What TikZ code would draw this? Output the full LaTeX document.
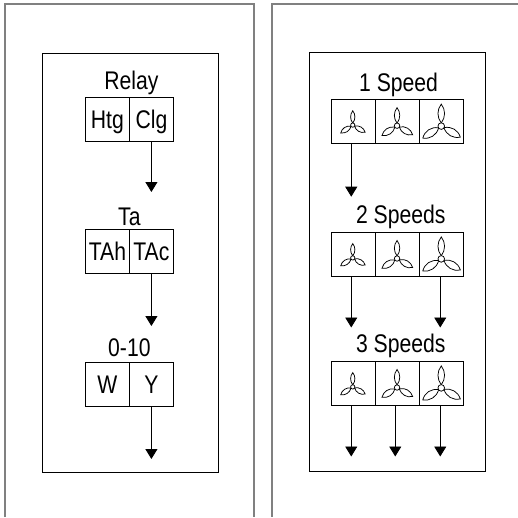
\documentclass[tikz,border=0pt]{standalone}
\usepackage{fontspec}
\setmainfont[FakeStretch=0.83]{Liberation Sans}
\usetikzlibrary{arrows.meta,positioning,calc}
\definecolor{panelgray}{RGB}{128,128,128}

\begin{document}
\begin{tikzpicture}[x=1pt,y=1pt,
  panel/.style={draw=panelgray, line width=2pt},
  frame/.style={draw, line width=1pt, minimum width=176pt, minimum height=419pt, inner sep=0pt},
  cell/.style={draw, line width=0.9pt, minimum width=44pt, minimum height=44pt, inner sep=0pt, outer sep=0pt, text height=18pt, text depth=0pt, font=\fontsize{25.5}{25.5}\selectfont},
  title/.style={anchor=base, inner sep=0pt, font=\fontsize{25.5}{25.5}\selectfont},
  arr/.style={-{Triangle[length=10pt,width=12pt]}, line width=0.9pt},
  pics/fan/.style={code={
    \foreach \ang/\wid in {0/1,123/1.15,-120/1.15}
      \draw[rotate=\ang, xscale=\wid, line width=0.75pt] (0,0.14) .. controls (-0.2,0.4) and (-0.2,0.75) .. (0,1) .. controls (0.2,0.75) and (0.2,0.4) .. (0,0.14);
    \draw[line width=0.75pt, fill=white] (0,0) circle (0.15);
  }}]
\useasboundingbox (0,0) rectangle (518,-517);
% outer panels, open at the bottom
\draw[panel] (5,-517) -- (5,-4) -- (254,-4) -- (254,-517);
\draw[panel] (518,-4) -- (272,-4) -- (272,-517);
\node[frame] (leftframe) at (130,-262.5) {};
\node[frame] (rightframe) at (397.5,-262) {};

% left column
\node[cell] (htg) at (107.4,-119) {Htg};
\node[cell, right=0pt of htg] (clg) {Clg};
\node[title] (relay) at ($(htg.north east)+(2,7.6)$) {Relay};
\node[cell] (tah) at (107.4,-251) {TAh};
\node[cell, right=0pt of tah] (tac) {TAc};
\node[title] (ta) at ($(tah.north east)+(0,3.7)$) {Ta};
\node[cell] (w) at (107.4,-384) {W};
\node[cell, right=0pt of w] (y) {Y};
\node[title] (range) at ($(w.north east)+(0,5.6)$) {0-10};
\coordinate[below=51pt of clg] (clgend);
\coordinate[below=53pt of tac] (tacend);
\coordinate[below=53pt of y] (yend);
\draw[arr] (clg) -- (clgend);
\draw[arr] (tac) -- (tacend);
\draw[arr] (y) -- (yend);

% right column
\node[cell] (lowa) at (353.25,-121.7) {};
\node[cell, right=0pt of lowa] (mida) {};
\node[cell, right=0pt of mida] (higha) {};
\node[title] (onespeed) at ($(mida.north)+(1.3,8.6)$) {1 Speed};
\node[cell] (lowb) at (353.25,-254.5) {};
\node[cell, right=0pt of lowb] (midb) {};
\node[cell, right=0pt of midb] (highb) {};
\node[title] (twospeeds) at ($(midb.north)+(3.5,8.7)$) {2 Speeds};
\node[cell] (lowc) at (353.25,-383.5) {};
\node[cell, right=0pt of lowc] (midc) {};
\node[cell, right=0pt of midc] (highc) {};
\node[title] (threespeeds) at ($(midc.north)+(3.5,9)$) {3 Speeds};
\foreach \row in {a,b,c} {
  \pic[scale=14.3] at ($(low\row)+(-0.5,-3.4)$) {fan};
  \pic[scale=18] at ($(mid\row)+(-0.2,-4)$) {fan};
  \pic[scale=22] at ($(high\row)+(0,-4.4)$) {fan};
}
\coordinate[below=53pt of lowa, xshift=-2pt] (lowaend);
\coordinate[below=51pt of lowb, xshift=-2pt] (lowbend);
\coordinate[below=51pt of highb, xshift=-1pt] (highbend);
\coordinate[below=51pt of lowc, xshift=-2pt] (lowcend);
\coordinate[below=51pt of midc, xshift=-2pt] (midcend);
\coordinate[below=51pt of highc, xshift=-1pt] (highcend);
\draw[arr] (lowaend |- lowa.south) -- (lowaend);
\draw[arr] (lowbend |- lowb.south) -- (lowbend);
\draw[arr] (highbend |- highb.south) -- (highbend);
\draw[arr] (lowcend |- lowc.south) -- (lowcend);
\draw[arr] (midcend |- midc.south) -- (midcend);
\draw[arr] (highcend |- highc.south) -- (highcend);
\end{tikzpicture}
\end{document}
